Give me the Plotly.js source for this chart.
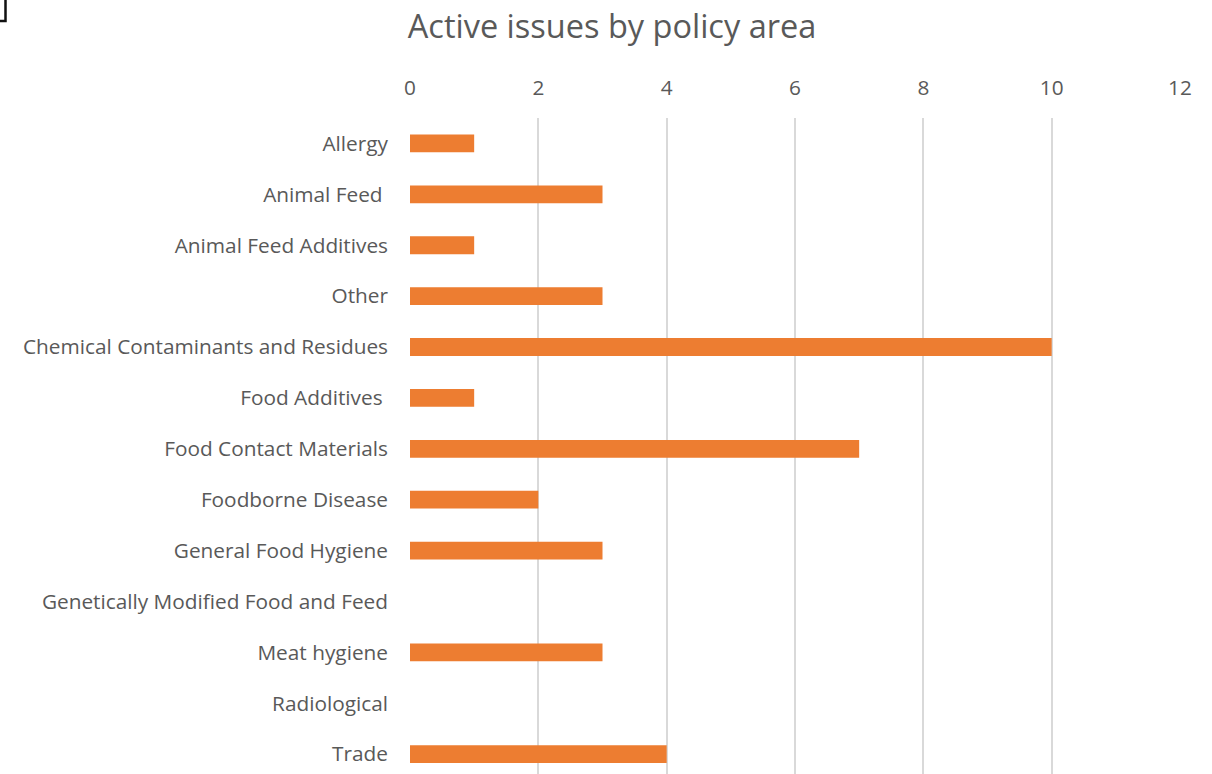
<!DOCTYPE html>
<html>
<head>
<meta charset="utf-8">
<script src="https://cdn.plot.ly/plotly-3.0.1.min.js"></script>
<style>
  html, body { margin: 0; padding: 0; background: #ffffff; }
  #chart { width: 1212px; height: 774px; }
</style>
</head>
<body>
<div id="chart"></div>
<script>
// Policy areas, listed top to bottom
const policyAreas = [
  'Allergy',
  'Animal Feed\u00a0',
  'Animal Feed Additives',
  'Other',
  'Chemical Contaminants and Residues',
  'Food Additives\u00a0',
  'Food Contact Materials',
  'Foodborne Disease',
  'General Food Hygiene',
  'Genetically Modified Food and Feed',
  'Meat hygiene',
  'Radiological',
  'Trade'
];

// Number of active issues per policy area
const activeIssues = [1, 3, 1, 3, 10, 1, 7, 2, 3, 0, 3, 0, 4];

// Value axis ticks
const valueTicks = [0, 2, 4, 6, 8, 10, 12];

const textColor = '#595959';
const fontFamily = 'Open Sans, Noto Sans, sans-serif';

const trace = {
  type: 'bar',
  orientation: 'h',
  y: policyAreas,
  x: activeIssues,
  width: 0.35,
  marker: { color: '#ED7D31', line: { width: 0 } },
  hoverinfo: 'x+y'
};

const layout = {
  width: 1212,
  height: 774,
  margin: { l: 410, r: 32, t: 118, b: 0 },
  paper_bgcolor: '#ffffff',
  plot_bgcolor: '#ffffff',
  showlegend: false,
  title: {
    text: 'Active issues by policy area',
    font: { family: fontFamily, size: 32.5, color: textColor },
    x: 0.505,
    xanchor: 'center',
    y: 0.966,
    yanchor: 'middle'
  },
  xaxis: {
    side: 'top',
    range: [0, 12],
    tickvals: valueTicks,
    ticktext: valueTicks.map(String),
    showgrid: true,
    gridcolor: '#d9d9d9',
    gridwidth: 2,
    zeroline: false,
    showline: false,
    ticks: '',
    ticklabelstandoff: 18,
    tickfont: { family: fontFamily, size: 20.8, color: textColor },
    fixedrange: true
  },
  yaxis: {
    type: 'category',
    categoryorder: 'array',
    categoryarray: policyAreas,
    range: [12.39, -0.5],
    showgrid: false,
    zeroline: false,
    showline: false,
    ticks: '',
    ticklabelstandoff: 21,
    tickfont: { family: fontFamily, size: 20.8, color: textColor },
    fixedrange: true
  },
  shapes: [
    {
      // corner bracket in the top-left of the page
      type: 'path',
      xref: 'paper',
      yref: 'paper',
      xsizemode: 'pixel',
      ysizemode: 'pixel',
      xanchor: 0,
      yanchor: 1,
      path: 'M -412 97 L -404.5 97 L -404.5 122',
      line: { color: '#111111', width: 2.5 },
      layer: 'above'
    }
  ]
};

Plotly.newPlot('chart', [trace], layout, { displayModeBar: false, staticPlot: true });
</script>
</body>
</html>
